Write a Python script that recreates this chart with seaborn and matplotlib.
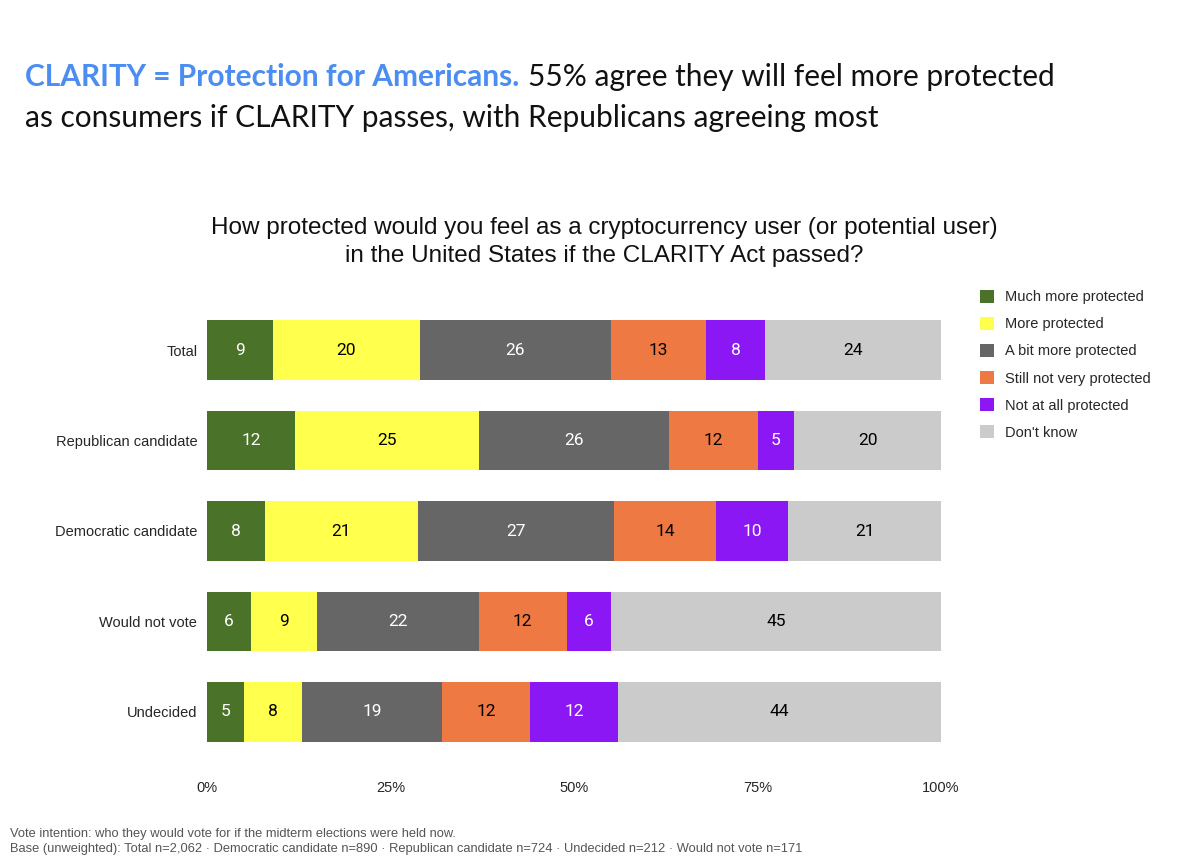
import matplotlib
matplotlib.use("Agg")
import matplotlib.pyplot as plt
from matplotlib.patches import Patch
import seaborn as sns
import pandas as pd

# data
groups = ["Total", "Republican candidate", "Democratic candidate", "Would not vote", "Undecided"]
responses = ["Much more protected", "More protected", "A bit more protected",
             "Still not very protected", "Not at all protected", "Don't know"]
much_more = [9, 12, 8, 6, 5]
more = [20, 25, 21, 9, 8]
bit_more = [26, 26, 27, 22, 19]
still_not = [13, 12, 14, 12, 12]
not_at_all = [8, 5, 10, 6, 12]
dont_know = [24, 20, 21, 45, 44]
series = [much_more, more, bit_more, still_not, not_at_all, dont_know]

colors = ["#4a7229", "#ffff4d", "#666666", "#ee7942", "#8b17f5", "#cbcbcb"]
text_colors = ["white", "black", "white", "black", "white", "black"]

# long table with shares normalised per row and cumulative ends
rows = []
for g_i, g in enumerate(groups):
    total = sum(s[g_i] for s in series)
    cum = 0
    for r_i, r in enumerate(responses):
        v = series[r_i][g_i]
        share = v / total * 100
        cum += share
        rows.append({"group": g, "response": r, "value": v, "share": share, "cum": cum})
df = pd.DataFrame(rows)

sns.set_theme(style="white")
plt.rcParams['font.family'] = ['Liberation Sans', 'DejaVu Sans']

fig = plt.figure(figsize=(12, 8.67), dpi=100)
ax = fig.add_axes([207 / 1200, 1 - 757 / 867, (941 - 207) / 1200, (757 - 305) / 867])

# draw the stacked bars as layered cumulative bars, widest first
for r_i in reversed(range(len(responses))):
    sub = df[df["response"] == responses[r_i]]
    sns.barplot(data=sub, x="cum", y="group", order=groups, color=colors[r_i],
                saturation=1, width=0.66, errorbar=None, linewidth=0, ax=ax)

for _, row in df.iterrows():
    y = groups.index(row["group"])
    r_i = responses.index(row["response"])
    ax.text(row["cum"] - row["share"] / 2, y, str(row["value"]), ha="center", va="center",
            fontsize=12.5, color=text_colors[r_i], family=["Roboto", "DejaVu Sans"])

ax.set_xlim(0, 100)
ax.set_xticks([0, 25, 50, 75, 100])
ax.set_xticklabels(["0%", "25%", "50%", "75%", "100%"])
ax.tick_params(axis="x", length=0, pad=17, labelsize=10.5)
ax.tick_params(axis="y", length=0, pad=7, labelsize=10.5)
ax.set_xlabel("")
ax.set_ylabel("")
sns.despine(ax=ax, left=True, bottom=True)

# legend
handles = [Patch(facecolor=c, edgecolor="none", label=l) for c, l in zip(colors, responses)]
fig.legend(handles=handles, loc="upper left", bbox_to_anchor=(974 / 1200, 1 - 284 / 867),
           frameon=False, fontsize=10.5, handlelength=1.0, handleheight=1.0,
           handletextpad=0.7, labelspacing=0.86, borderaxespad=0)

# chart question
fig.text(604 / 1200, 1 - 242 / 867,
         "How protected would you feel as a cryptocurrency user (or potential user)\n"
         "in the United States if the CLARITY Act passed?",
         ha="center", va="center", fontsize=17.5, linespacing=1.35, color="#111111")

# headline with coloured lead-in
renderer = fig.canvas.get_renderer()
t1 = fig.text(25 / 1200, 1 - 77 / 867, "CLARITY = Protection for Americans.", ha="left",
              va="center", fontsize=21.5, weight="bold", color="#4b8df0",
              family=["Lato", "DejaVu Sans"])
bb = t1.get_window_extent(renderer)
fig.text(bb.x1 / fig.bbox.width + 9 / 1200, 1 - 77 / 867,
         "55% agree they will feel more protected", ha="left", va="center",
         fontsize=21.5, color="#111111", family=["Lato", "DejaVu Sans"])
fig.text(25 / 1200, 1 - 118 / 867,
         "as consumers if CLARITY passes, with Republicans agreeing most", ha="left",
         va="center", fontsize=21.5, color="#111111", family=["Lato", "DejaVu Sans"])

# footnote
fig.text(10 / 1200, 1 - 834 / 867,
         "Vote intention: who they would vote for if the midterm elections were held now.",
         ha="left", va="center", fontsize=9.3, color="#555555")
fig.text(10 / 1200, 1 - 849 / 867,
         "Base (unweighted): Total n=2,062 \u00b7 Democratic candidate n=890 \u00b7 Republican candidate n=724 "
         "\u00b7 Undecided n=212 \u00b7 Would not vote n=171",
         ha="left", va="center", fontsize=9.3, color="#555555")

fig.savefig("out.png", dpi=100)
plt.close(fig)
